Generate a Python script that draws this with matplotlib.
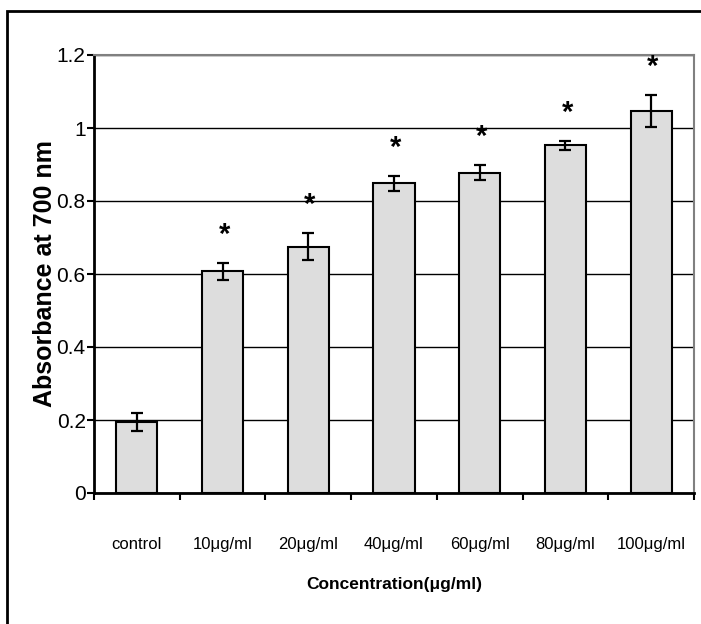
import matplotlib
matplotlib.use('Agg')
import matplotlib.pyplot as plt
from matplotlib.patches import Rectangle

categories = ['control', '10μg/ml', '20μg/ml', '40μg/ml', '60μg/ml', '80μg/ml', '100μg/ml']
absorbance = [0.195, 0.607, 0.675, 0.848, 0.878, 0.953, 1.047]
errors = [0.025, 0.024, 0.036, 0.020, 0.020, 0.012, 0.044]
significant = [False, True, True, True, True, True, True]

plt.rcParams['font.family'] = ['Liberation Sans', 'DejaVu Sans']

fig = plt.figure(figsize=(7.01, 6.24), dpi=100)
ax = fig.add_axes([94/701, 1-493/624, 600/701, 438/624])

x = list(range(len(categories)))
ax.bar(x, absorbance, width=0.48, color='#dddddd', edgecolor='black', linewidth=1.5, zorder=3)
ax.errorbar(x, absorbance, yerr=errors, fmt='none', ecolor='black', elinewidth=1.6,
            capsize=4.5, capthick=1.6, zorder=4)
for xi, v, e, s in zip(x, absorbance, errors, significant):
    if s:
        ax.text(xi + 0.02, v + e + 0.055, '*', ha='center', va='baseline', fontsize=21,
                fontweight='bold', zorder=5)

ax.set_xlim(-0.5, len(categories) - 0.5)
ax.set_ylim(0, 1.2)
ax.set_yticks([0, 0.2, 0.4, 0.6, 0.8, 1.0, 1.2])
ax.set_yticklabels(['0', '0.2', '0.4', '0.6', '0.8', '1', '1.2'], fontsize=15)
ax.yaxis.grid(True, color='black', linewidth=1.0, zorder=0)
ax.set_axisbelow(True)

ax.set_xticks(x)
ax.set_xticklabels(categories, fontsize=12)
ax.set_xticks([i - 0.5 for i in range(len(categories) + 1)], minor=True)
ax.tick_params(axis='x', which='major', length=0, pad=32)
ax.tick_params(axis='x', which='minor', length=5, width=1.5, direction='out')
ax.tick_params(axis='y', length=5, width=1.5, direction='out', pad=1)

for side in ['left', 'bottom']:
    ax.spines[side].set_linewidth(2)
    ax.spines[side].set_color('black')
for side in ['top', 'right']:
    ax.spines[side].set_linewidth(1.5)
    ax.spines[side].set_color('#808080')

ax.set_ylabel('Absorbance at 700 nm', fontsize=18, fontweight='bold')
ax.yaxis.set_label_coords(-0.082, 0.5)
ax.yaxis.label.set_va('center')
ax.set_xlabel('Concentration(μg/ml)', fontsize=12.5, fontweight='bold')
ax.xaxis.set_label_coords(0.5, -0.208)
ax.xaxis.label.set_va('center')

fig.patches.append(Rectangle((7/701, -0.1), 2, 1 - 11/624 + 0.1, transform=fig.transFigure,
                             fill=False, edgecolor='black', linewidth=2))

plt.savefig('out.png', dpi=100)
